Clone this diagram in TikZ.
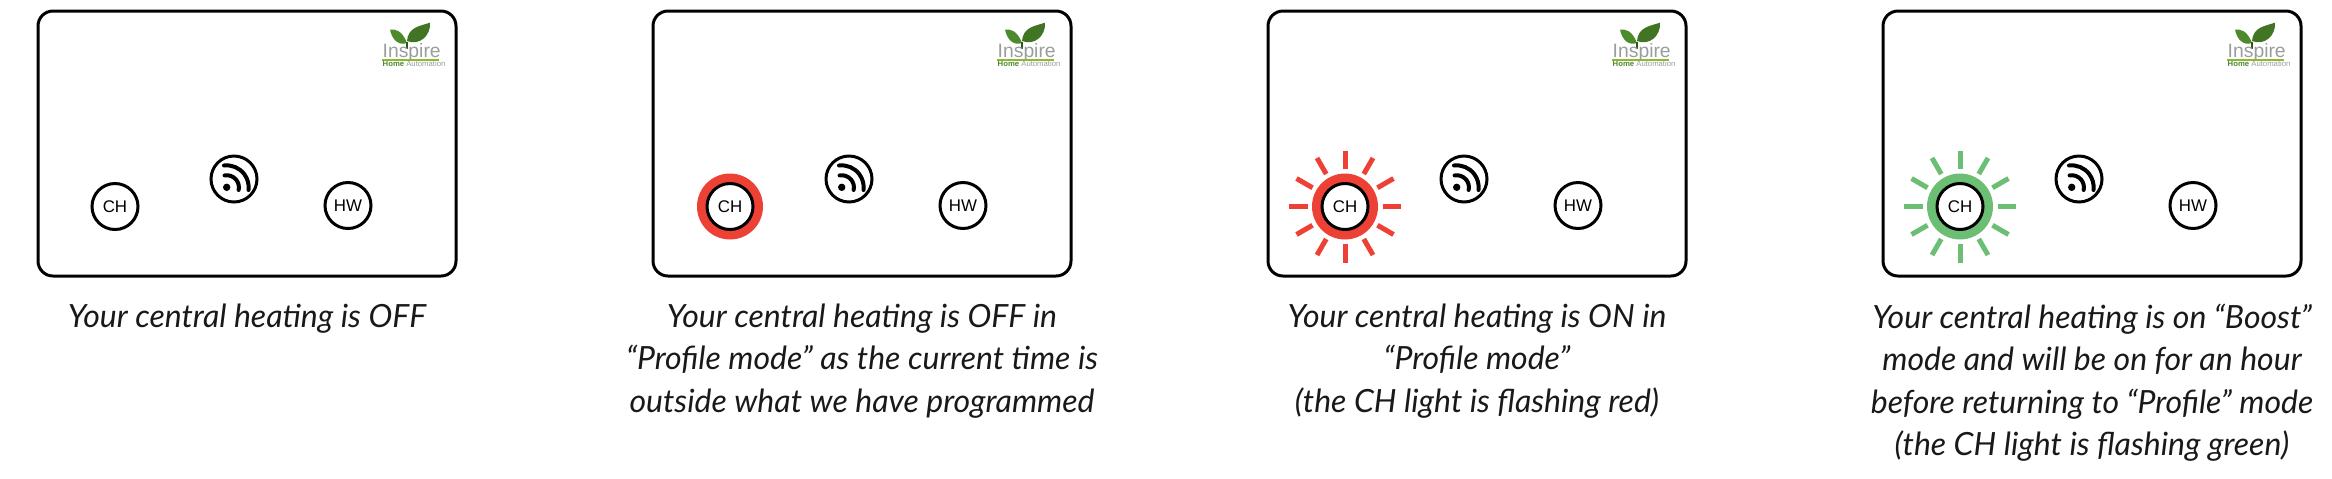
\documentclass[tikz,border=0pt]{standalone}
\usepackage{fontspec}
\setmainfont{Lato}
\setsansfont{Liberation Sans}
\usepackage{tikz}
\usetikzlibrary{shapes.geometric}
\definecolor{flashred}{HTML}{EE4136}
\definecolor{flashgreen}{HTML}{6CBE75}
\definecolor{leafgreen}{HTML}{4C8A2B}
\definecolor{linegreen}{HTML}{8DB92E}
\definecolor{logogray}{HTML}{9A9C9E}

\tikzset{
  wifi/.pic={
    \fill (-0.073,-0.083) circle (0.037);
    \draw[line width=0.04cm, line cap=round] (-0.094,0.036) arc (100:-12:0.122);
    \draw[line width=0.04cm, line cap=round] (-0.100,0.135) arc (97:-7:0.22);
  },
  logo/.pic={
    \fill[leafgreen] (0.25,0.14) .. controls (0.20,0.27) and (0.13,0.28) .. (0.08,0.275)
      .. controls (0.10,0.17) and (0.17,0.11) .. (0.25,0.14);
    \fill[leafgreen!85!black] (0.25,0.16) .. controls (0.26,0.30) and (0.38,0.31) .. (0.48,0.343)
      .. controls (0.49,0.21) and (0.37,0.11) .. (0.25,0.16);
    \draw[leafgreen!60!black, line width=0.012cm] (0.25,0.08) -- (0.25,0.15);
    \node[anchor=base west, inner sep=0, text=logogray, font=\sffamily\fontsize{5.5}{6}\selectfont] (ins) at (0,0) {Inspire};
    \fill[linegreen] (0,-0.035) rectangle (0.57,-0.02);
    \node[anchor=base west, inner sep=0, font=\sffamily\fontsize{2.2}{3}\selectfont] (aut) at (0,-0.09)
      {\textcolor{leafgreen}{\textbf{Home}} \textcolor{logogray}{Automation}};
  }
}

\begin{document}
\begin{tikzpicture}
\tikzstyle{card}=[rectangle, draw, line width=0.03cm, rounded corners=0.15cm,
    minimum width=4.18cm, minimum height=2.65cm]
\tikzstyle{btn}=[circle, draw, fill=white, line width=0.03cm, minimum size=0.46cm,
    inner sep=0, font=\sffamily\fontsize{4.8}{5}\selectfont]
\tikzstyle{ring}=[circle, minimum size=0.66cm, inner sep=0]
\tikzstyle{caption}=[anchor=north, inner sep=0, align=center,
    font=\itshape\fontsize{9.1}{12.1}\selectfont, text=black!90]
\tikzstyle{ray}=[line width=0.05cm]

\useasboundingbox (0,0) rectangle (23.32,4.78);

    \node[card] (c1) at (2.47,3.345) {};
    \node[card] (c2) at (8.62,3.345) {};
    \node[card] (c3) at (14.77,3.345) {};
    \node[card] (c4) at (20.92,3.345) {};

 % lit rings behind the CH buttons
 \node[ring, fill=flashred] (g2) at (7.30,2.715) {};
 \node[ring, fill=flashred] (g3) at (13.45,2.715) {};
 \node[ring, fill=flashgreen] (g4) at (19.60,2.715) {};
 \foreach \a in {0,30,...,330} {
   \draw[ray, flashred] (g3.center) ++(\a:0.375) -- ++(\a:0.185);
   \draw[ray, flashgreen] (g4.center) ++(\a:0.375) -- ++(\a:0.185);
 }

    \node[btn] (ch1) at (1.15,2.715) {CH};
    \node[btn] (ch2) at (7.30,2.715) {CH};
    \node[btn] (ch3) at (13.45,2.715) {CH};
    \node[btn] (ch4) at (19.60,2.715) {CH};

    \node[btn] (hw1) at (3.48,2.725) {HW};
    \node[btn] (hw2) at (9.63,2.725) {HW};
    \node[btn] (hw3) at (15.78,2.725) {HW};
    \node[btn] (hw4) at (21.93,2.725) {HW};

    \node[btn] (wf1) at (2.34,2.99) {};
    \node[btn] (wf2) at (8.49,2.99) {};
    \node[btn] (wf3) at (14.64,2.99) {};
    \node[btn] (wf4) at (20.79,2.99) {};
    \pic at (wf1) {wifi};
    \pic at (wf2) {wifi};
    \pic at (wf3) {wifi};
    \pic at (wf4) {wifi};

    \pic (l1) at (3.82,4.21) {logo};
    \pic (l2) at (9.97,4.21) {logo};
    \pic (l3) at (16.12,4.21) {logo};
    \pic (l4) at (22.27,4.21) {logo};

\node[caption] (t1) at (2.47,1.75) {Your central heating is OFF};
\node[caption] (t2) at (8.62,1.75) {Your central heating is OFF in\\
    “Profile mode” as the current time is\\ outside what we have programmed};
\node[caption] (t3) at (14.77,1.75) {Your central heating is ON in\\
    “Profile mode”\\ (the CH light is flashing red)};
\node[caption] (t4) at (20.92,1.75) {Your central heating is on “Boost”\\
    mode and will be on for an hour\\ before returning to “Profile” mode\\
    (the CH light is flashing green)};
\end{tikzpicture}
\end{document}
